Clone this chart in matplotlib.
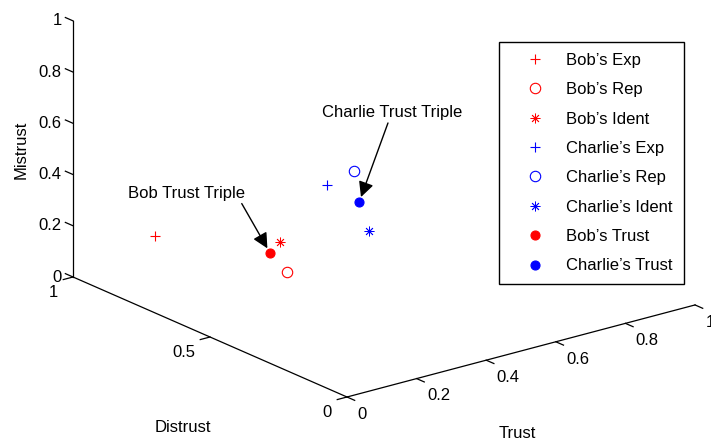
import matplotlib.pyplot as plt
import numpy as np
from mpl_toolkits.mplot3d import proj3d

plt.rcParams['font.family'] = ['Liberation Sans', 'DejaVu Sans']
plt.rcParams['font.size'] = 12

# trust triples: (trust, distrust, mistrust)
bob_exp = [0.0, 0.7, 0.3]
bob_rep = [0.3, 0.6, 0.1]
bob_ident = [0.2, 0.5, 0.3]
charlie_exp = [0.1, 0.2, 0.7]
charlie_rep = [0.1, 0.1, 0.8]
charlie_ident = [0.3, 0.3, 0.4]
bob_trust = [0.22, 0.56, 0.22]
charlie_trust = [0.20, 0.21, 0.59]

trust_ticks = [0, 0.2, 0.4, 0.6, 0.8, 1]
distrust_ticks = [0, 0.5, 1]
mistrust_ticks = [0, 0.2, 0.4, 0.6, 0.8, 1]

W, H = 711, 444
fig = plt.figure(figsize=(W / 100, H / 100), dpi=100)
ax = fig.add_axes([0, 0, 1, 1], projection='3d')
ax.set_proj_type('ortho')
ax.view_init(elev=19.9, azim=-127.85)
ax.set_box_aspect((1, 1.013, 0.618))
ax.set_xlim(0, 1)
ax.set_ylim(0, 1)
ax.set_zlim(0, 1)
ax.set_axis_off()

asterisk = (8, 2, 0)
series = [
    (bob_exp, "Bob’s Exp", dict(marker='+', color='red', ms=7.5, mew=0.8)),
    (bob_rep, "Bob’s Rep", dict(marker='o', color='red', mfc='none', ms=7.5, mew=0.8)),
    (bob_ident, "Bob’s Ident", dict(marker=asterisk, color='red', ms=7, mew=0.6)),
    (charlie_exp, "Charlie’s Exp", dict(marker='+', color='blue', ms=7.5, mew=0.8)),
    (charlie_rep, "Charlie’s Rep", dict(marker='o', color='blue', mfc='none', ms=7.5, mew=0.8)),
    (charlie_ident, "Charlie’s Ident", dict(marker=asterisk, color='blue', ms=7, mew=0.6)),
    (bob_trust, "Bob’s Trust", dict(marker='o', color='red', ms=6.5, mew=0.8)),
    (charlie_trust, "Charlie’s Trust", dict(marker='o', color='blue', ms=6.5, mew=0.8)),
]
for pt, label, style in series:
    ax.plot([pt[0]], [pt[1]], [pt[2]], linestyle='none', label=label, **style)

# matlab style axis lines
k = dict(color='black', lw=0.9)
ax.plot([0, 1], [0, 0], [0, 0], **k)
ax.plot([0, 0], [0, 1], [0, 0], **k)
ax.plot([0, 0], [1, 1], [0, 1], **k)
tl = 0.028
for t in trust_ticks:
    ax.plot([t, t], [0, -tl], [0, 0], **k)
    ax.text(t, -0.038, -0.05, f'{t:g}', ha='left', va='center')
for d in distrust_ticks:
    ax.plot([0, -tl], [d, d], [0, 0], **k)
    ax.text(-0.043, d, -0.047, f'{d:g}', ha='right', va='center')
for m in mistrust_ticks:
    ax.plot([0, 0], [1, 1 + tl], [m, m], **k)
    ax.text(0, 1.042, m - 0.02, f'{m:g}', ha='right', va='center')


def to_px(p):
    x2, y2, _ = proj3d.proj_transform(p[0], p[1], p[2], ax.get_proj())
    return ax.transData.transform((x2, y2))


# fit the projected box to the reference placement
target_o = np.array([347.0, H - 397.0])
target_x = np.array([695.0, H - 305.0])
target_y = np.array([73.0, H - 277.0])
for _ in range(3):
    fig.canvas.draw()
    p_o = to_px((0, 0, 0))
    p_x = to_px((1, 0, 0))
    p_y = to_px((0, 1, 0))
    scale = np.linalg.norm(target_x - target_y) / np.linalg.norm(p_x - p_y)
    bb = ax.bbox
    L0 = bb.width
    u_o = (p_o - np.array([bb.x0, bb.y0])) / L0
    L = L0 * scale
    x0, y0 = target_o - L * u_o
    ax.set_position([x0 / W, y0 / H, L / W, L / H])
fig.canvas.draw()

fig.text(21 / W, 1 - 150 / H, 'Mistrust', rotation=90, ha='center', va='center')
fig.text(182.5 / W, 1 - 427 / H, 'Distrust', ha='center', va='center')
fig.text(517 / W, 1 - 433 / H, 'Trust', ha='center', va='center')

arrow = dict(arrowstyle='-|>', color='black', lw=1, mutation_scale=23, shrinkA=0, shrinkB=4)
ax.annotate('Bob Trust Triple', xy=to_px(bob_trust), xycoords='figure pixels',
            xytext=(186.7, H - 193.3), textcoords='figure pixels', ha='center', va='center',
            arrowprops=dict(arrow, relpos=(0.957, 0.0)))
ax.annotate('Charlie Trust Triple', xy=to_px(charlie_trust), xycoords='figure pixels',
            xytext=(392.5, H - 112.7), textcoords='figure pixels', ha='center', va='center',
            arrowprops=dict(arrow, relpos=(0.475, 0.0)))

leg = ax.legend(loc='upper left', bbox_to_anchor=(499 / W, 1 - 42 / H),
                bbox_transform=fig.transFigure, borderaxespad=0, fancybox=False,
                edgecolor='black', framealpha=1, borderpad=0.66, handlelength=3.0,
                handletextpad=0.36, labelspacing=0.86, numpoints=1, fontsize=12)
leg.get_frame().set_linewidth(1.0)

plt.savefig('out.png', dpi=100)
